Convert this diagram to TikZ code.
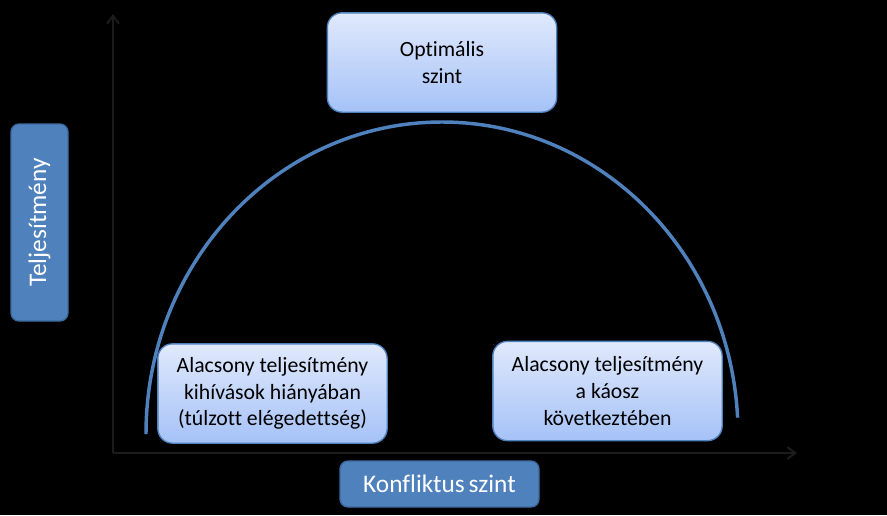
\documentclass[tikz,border=0pt]{standalone}
\usepackage{fontspec}
\setmainfont{Carlito}[Ligatures=NoCommon]
\usepackage{xcolor}
\usepackage{tikz}
\usetikzlibrary{arrows.meta}
\definecolor{accent}{HTML}{4F81BD}
\definecolor{accentdark}{HTML}{3C6A9F}
\definecolor{boxtop}{HTML}{E0E9FC}
\definecolor{boxbot}{HTML}{A5C2F7}
\definecolor{axisgray}{HTML}{1C1C1C}

\begin{document}
\begin{tikzpicture}[
    x=0.75pt, y=-0.75pt,
    box/.style={draw=accent, line width=1pt, rounded corners=11pt, align=center,
      top color=boxtop, bottom color=boxbot, text=black,
      font=\fontsize{16.3}{20}\selectfont, minimum width=172pt, minimum height=74.5pt, inner sep=2pt},
    tag/.style={draw=accentdark, line width=1pt, rounded corners=6pt, align=center,
      fill=accent, text=white, font=\fontsize{19}{22}\selectfont, inner sep=2pt},
    axis/.style={draw=axisgray, line width=1.5pt, -{Straight Barb[length=6pt, width=9pt]}},
  ]
    \fill[black] (0,0) rectangle (887,515);
    \useasboundingbox (0,0) rectangle (887,515);
    % axes
    \coordinate (origin) at (113,453);
    \coordinate (ytop) at (113,14);
    \coordinate (xend) at (797,453);
    \draw[axis] (origin) -- (ytop);
    \draw[axis] (origin) -- (xend);
    % curve
    \draw[accent, line width=2.6pt] (146,434) arc[start angle=180, end angle=3, x radius=222pt, y radius=234pt];
    % boxes
    \node[box] (opt) at (442,62.5) {Optimális\\szint};
    \node[box] (lowleft) at (272.5,393.5) {Alacsony teljesítmény\\kihívások hiányában\\(túlzott elégedettség)};
    \node[box] (lowright) at (607.5,391) {Alacsony teljesítmény\\a káosz\\következtében};
    % axis labels
    \node[tag, rotate=90, minimum width=147.75pt, minimum height=42.75pt] (perf) at (39.5,222.5) {Teljesítmény};
    \node[tag, minimum width=149.25pt, minimum height=34.5pt] (conflict) at (439.5,484) {Konfliktus\hspace{0.15em}szint};
  \end{tikzpicture}
\end{document}
